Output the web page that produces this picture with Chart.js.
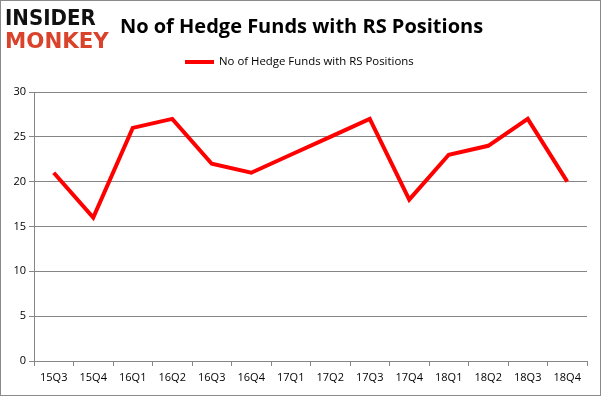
<!DOCTYPE html>
<html>
<head>
<meta charset="utf-8">
<script src="https://cdn.jsdelivr.net/npm/chart.js@4"></script>
<style>
  html, body { margin: 0; padding: 0; background: #fff; }
  #wrap { position: relative; width: 601px; height: 396px; box-sizing: border-box; border: 1px solid #8a8a8a; overflow: hidden; }
  #c { position: absolute; left: 0; top: 0; }
  .logo { position: absolute; left: 4px; font-family: "DejaVu Sans", sans-serif; font-weight: bold; font-size: 22px; letter-spacing: 0px; line-height: 22px; transform-origin: left top; }
  #logo1 { top: 6px; color: #111; transform: scale(0.9, 1); }
  #logo2 { top: 29px; color: #d9432b; transform: scale(0.97, 1); }
  #title { position: absolute; left: 0; width: 601px; top: 11px; text-align: center; font-family: "Open Sans", sans-serif; font-weight: bold; font-size: 20px; color: #000; }
  #legline { position: absolute; left: 184px; top: 59px; width: 29px; height: 4px; background: #ff0000; }
  #legtext { position: absolute; left: 218px; top: 52px; font-family: "Open Sans", sans-serif; font-size: 11.4px; color: #000; }
</style>
</head>
<body>
<div id="wrap">
  <canvas id="c" width="601" height="396"></canvas>
  <div class="logo" id="logo1">INSIDER</div>
  <div class="logo" id="logo2">MONKEY</div>
  <div id="title">No of Hedge Funds with RS Positions</div>
  <div id="legline"></div>
  <div id="legtext">No of Hedge Funds with RS Positions</div>
</div>
<script>
const categories = ["15Q3","15Q4","16Q1","16Q2","16Q3","16Q4","17Q1","17Q2","17Q3","17Q4","18Q1","18Q2","18Q3","18Q4"];
const hedgeFunds = [21, 16, 26, 27, 22, 21, 23, 25, 27, 18, 23, 24, 27, 20];
const seriesLabel = "No of Hedge Funds with RS Positions";
const yMin = 0, yMax = 30, yStep = 5;

const gridColor = "#868686";
const tickFont = { family: "Open Sans", size: 11 };

new Chart(document.getElementById("c"), {
  type: "line",
  data: {
    labels: categories,
    datasets: [{
      label: seriesLabel,
      data: hedgeFunds,
      borderColor: "#ff0000",
      backgroundColor: "#ff0000",
      borderWidth: 4,
      pointRadius: 0,
      tension: 0,
      borderCapStyle: "butt",
      borderJoinStyle: "miter"
    }]
  },
  options: {
    responsive: false,
    animation: false,
    devicePixelRatio: 1,
    layout: { padding: { top: 91, left: 0, right: 15, bottom: 0 } },
    plugins: { legend: { display: false }, title: { display: false }, tooltip: { enabled: false } },
    scales: {
      x: {
        offset: true,
        grid: { offset: true, drawOnChartArea: false, drawTicks: true, tickLength: 5, color: gridColor },
        border: { color: gridColor, width: 1 },
        ticks: { color: "#000", font: tickFont, padding: 5, maxRotation: 0, autoSkip: false },
        afterFit: s => { s.height = 36; }
      },
      y: {
        min: yMin, max: yMax,
        grid: { color: gridColor, tickLength: 5, drawTicks: true },
        border: { color: gridColor, width: 1 },
        ticks: { stepSize: yStep, color: "#000", font: tickFont, padding: 3 },
        afterFit: s => { s.width = 33; }
      }
    }
  }
});
</script>
</body>
</html>
